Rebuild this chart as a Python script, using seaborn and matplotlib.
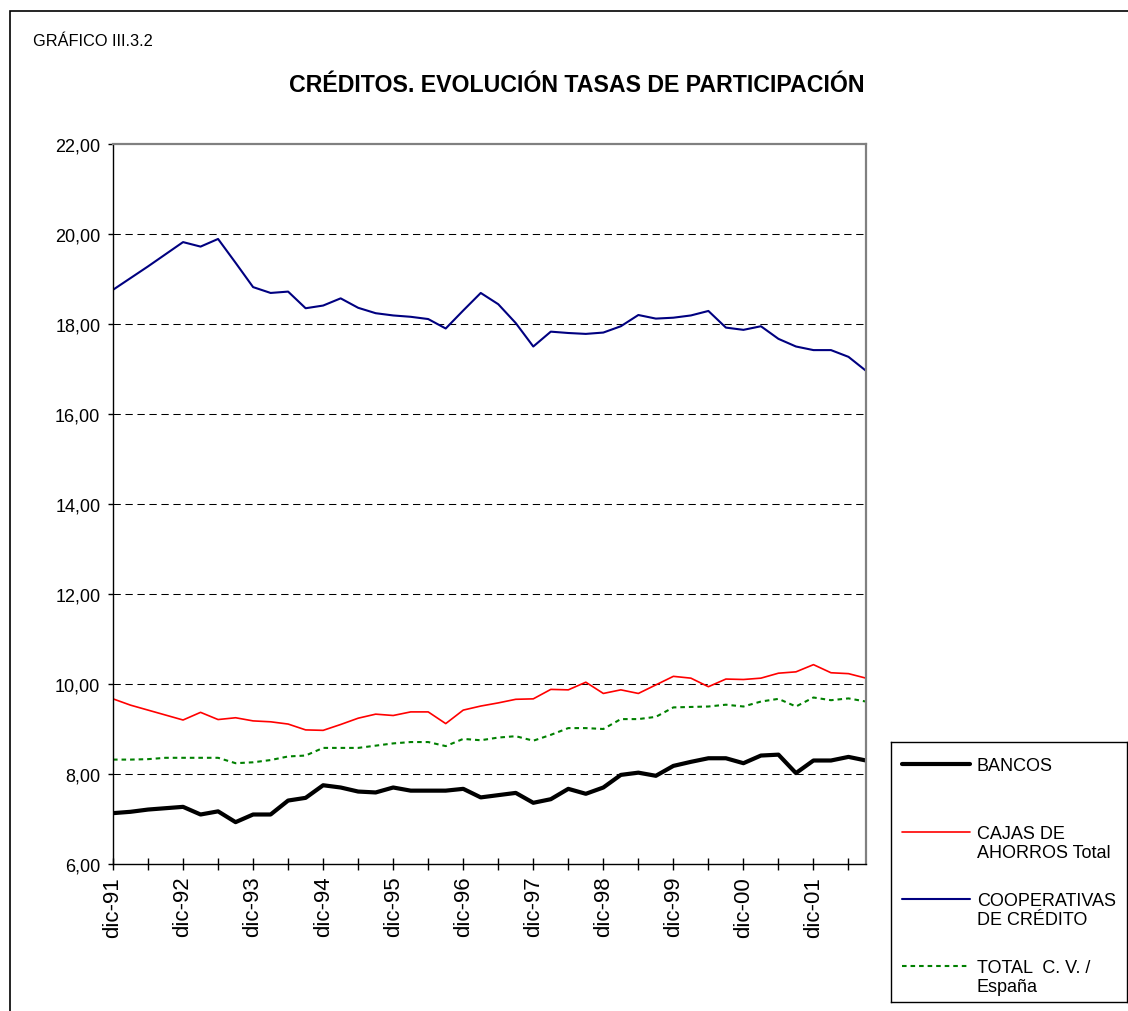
import matplotlib
matplotlib.use("Agg")
import matplotlib.pyplot as plt
import numpy as np
import pandas as pd
import seaborn as sns
from matplotlib.patches import Rectangle

# quarterly participation rates, dic-91 .. sep-02
bancos = [7.13, 7.16, 7.21, 7.24, 7.27, 7.10, 7.17, 6.93, 7.10, 7.10, 7.41,
          7.47, 7.75, 7.70, 7.61, 7.59, 7.70, 7.63, 7.63, 7.63, 7.67, 7.48,
          7.53, 7.58, 7.36, 7.44, 7.67, 7.56, 7.70, 7.98, 8.03, 7.96, 8.18,
          8.27, 8.35, 8.35, 8.24, 8.41, 8.43, 8.02, 8.30, 8.30, 8.38, 8.30]
cajas = [9.67, 9.53, 9.42, 9.31, 9.20, 9.37, 9.21, 9.25, 9.18, 9.16, 9.11,
         8.98, 8.97, 9.10, 9.24, 9.33, 9.30, 9.38, 9.38, 9.12, 9.42, 9.51,
         9.58, 9.66, 9.67, 9.88, 9.87, 10.04, 9.79, 9.87, 9.79, 9.98, 10.17,
         10.13, 9.94, 10.11, 10.10, 10.13, 10.24, 10.27, 10.43, 10.25, 10.23, 10.13]
cooperativas = [18.76, 19.02, 19.28, 19.55, 19.82, 19.72, 19.89, 19.36, 18.82,
                18.69, 18.72, 18.35, 18.41, 18.57, 18.36, 18.24, 18.19, 18.16,
                18.11, 17.90, 18.30, 18.69, 18.44, 18.02, 17.50, 17.83, 17.80,
                17.78, 17.81, 17.95, 18.20, 18.12, 18.14, 18.19, 18.29, 17.92,
                17.87, 17.95, 17.67, 17.50, 17.42, 17.42, 17.27, 16.96]
total_cv = [8.32, 8.32, 8.33, 8.36, 8.36, 8.36, 8.36, 8.24, 8.26, 8.31, 8.39,
            8.41, 8.58, 8.58, 8.58, 8.63, 8.68, 8.71, 8.71, 8.62, 8.78, 8.75,
            8.81, 8.84, 8.74, 8.87, 9.02, 9.02, 9.00, 9.22, 9.22, 9.27, 9.48,
            9.49, 9.50, 9.54, 9.50, 9.61, 9.67, 9.50, 9.70, 9.64, 9.68, 9.61]
year_labels = ["dic-91", "dic-92", "dic-93", "dic-94", "dic-95", "dic-96",
               "dic-97", "dic-98", "dic-99", "dic-00", "dic-01"]
y_ticks = [6, 8, 10, 12, 14, 16, 18, 20, 22]

series = [
    ("BANCOS", bancos, dict(color="black", linewidth=3.0, linestyle="-")),
    ("CAJAS DE\nAHORROS Total", cajas, dict(color="#FF0000", linewidth=1.2, linestyle="-")),
    ("COOPERATIVAS\nDE CRÉDITO", cooperativas, dict(color="#000080", linewidth=1.5, linestyle="-")),
    ("TOTAL  C. V. /\nEspaña", total_cv, dict(color="#008000", linewidth=1.5, linestyle=(0, (2.2, 1.9)))),
]

sns.set_style("white")
plt.rcParams["font.family"] = ["Liberation Sans", "DejaVu Sans"]
plt.rcParams["text.color"] = "black"
plt.rcParams["xtick.color"] = "black"
plt.rcParams["ytick.color"] = "black"
plt.rcParams["xtick.labelcolor"] = "black"
plt.rcParams["ytick.labelcolor"] = "black"

W, H = 1128, 1012
fig = plt.figure(figsize=(W / 100, H / 100), dpi=100)

# outer frame (cut by the right and bottom edge)
fig.add_artist(Rectangle((10 / W, -0.2), 1.2, 1.2 - 12 / H,
                         transform=fig.transFigure, fill=False,
                         edgecolor="black", linewidth=1.2))

ax = fig.add_axes([113 / W, 1 - 865 / H, (866 - 113) / W, (865 - 145) / H])
idx = np.arange(len(bancos))
for name, vals, st in series:
    df = pd.DataFrame({"q": idx, "v": vals})
    sns.lineplot(data=df, x="q", y="v", ax=ax, **st)

ax.set_xlim(0, len(bancos) - 1)
ax.set_ylim(6, 22)
ax.set_yticks(y_ticks)
ax.set_yticklabels([f"{v:.2f}".replace(".", ",") for v in y_ticks], fontsize=13)
ax.set_xticks(np.arange(0, len(bancos), 4))
ax.set_xticklabels(year_labels, rotation=90, fontsize=16, va="top", ha="center")
ax.set_xticks(np.arange(2, len(bancos), 4), minor=True)
ax.tick_params(axis="x", which="both", direction="inout", length=9, width=1,
               color="black", pad=4, bottom=True)
ax.tick_params(axis="y", direction="out", length=3.6, width=1, color="black",
               pad=5.5, left=True)
ax.set_xlabel("")
ax.set_ylabel("")

for v in y_ticks[1:-1]:
    ax.axhline(v, color="black", linewidth=0.75, linestyle=(0, (7, 4.5)), zorder=0.5)

for s in ("left", "bottom"):
    ax.spines[s].set_color("black")
    ax.spines[s].set_linewidth(1)
for s in ("top", "right"):
    ax.spines[s].set_color("#808080")
    ax.spines[s].set_linewidth(1.6)

fig.text(33 / W, 1 - 42 / H, "GRÁFICO III.3.2", fontsize=11.8, ha="left", va="center")
fig.text(577 / W, 1 - 85 / H, "CRÉDITOS. EVOLUCIÓN TASAS DE PARTICIPACIÓN",
         fontsize=16.7, fontweight="bold", ha="center", va="center")

# legend box
lax = fig.add_axes([891 / W, 1 - 1003 / H, 236 / W, 260 / H])
lax.set_xlim(0, 1)
lax.set_ylim(0, 1)
lax.set_xticks([])
lax.set_yticks([])
for s in lax.spines.values():
    s.set_color("black")
    s.set_linewidth(1)
handle_y = [0.915, 0.654, 0.396, 0.138]
for (name, vals, st), hy in zip(series, handle_y):
    lax.plot([0.047, 0.335], [hy, hy], **st)
    lax.text(0.364, hy + 0.028, name, fontsize=13, ha="left", va="top",
             linespacing=1.2)

fig.savefig("out.png", dpi=100)
